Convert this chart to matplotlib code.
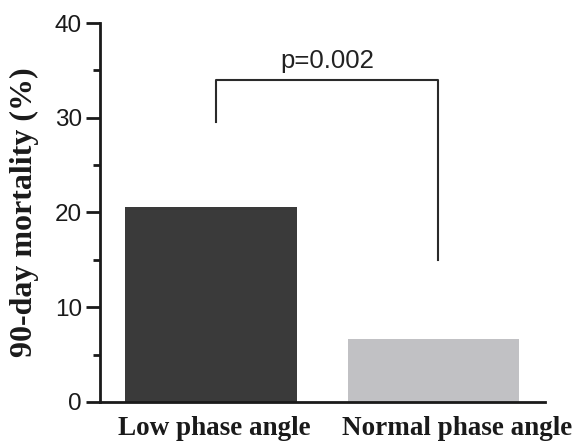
import numpy as np
import matplotlib
matplotlib.use("Agg")
import matplotlib.pyplot as plt
from matplotlib.ticker import MultipleLocator

groups = ["Low phase angle", "Normal phase angle"]
mortality = [20.6, 6.65]
bar_colors = ["#3a3a3a", "#c1c1c4"]
p_text = "p=0.002"

fig = plt.figure(figsize=(5.74, 4.46), dpi=100)
ax = fig.add_axes([0.174, 0.0987, 0.7755, 0.8497])

x = np.arange(len(groups))
ax.bar(x, mortality, width=0.77, color=bar_colors)

ax.set_xlim(-0.5, 1.5)
ax.set_ylim(0, 40)
ax.yaxis.set_major_locator(MultipleLocator(10))
ax.yaxis.set_minor_locator(MultipleLocator(5))
ax.spines["top"].set_visible(False)
ax.spines["right"].set_visible(False)
for s in ["left", "bottom"]:
    ax.spines[s].set_linewidth(2)
    ax.spines[s].set_color("#1a1a1a")
ax.tick_params(axis="y", which="major", length=10, width=2, color="#1a1a1a",
               labelsize=17.5, pad=3, labelcolor="#1a1a1a")
ax.tick_params(axis="y", which="minor", length=5, width=2, color="#1a1a1a")
ax.tick_params(axis="x", length=0, pad=10)
for lbl in ax.get_yticklabels():
    lbl.set_family("Liberation Sans")

# labels sit a bit off the bar centres in the original
ax.set_xticks(x + np.array([0.016, 0.106]))
ax.set_xticklabels(groups, family="Liberation Serif", fontweight="bold", fontsize=19.5,
                   color="#1a1a1a")
ax.set_ylabel("90-day mortality (%)", family="Liberation Serif", fontweight="bold",
              fontsize=23, labelpad=11, color="#1a1a1a")

# significance bracket
ax.plot([0.02, 0.02, 1.02, 1.02], [29.6, 34.0, 34.0, 15.0], color="#2a2a2a",
        lw=1.5, clip_on=False)
ax.text(0.52, 35.2, p_text, ha="center", va="baseline", fontsize=18.5,
        family="Liberation Sans", color="#222222")

fig.savefig("out.png", dpi=100)
